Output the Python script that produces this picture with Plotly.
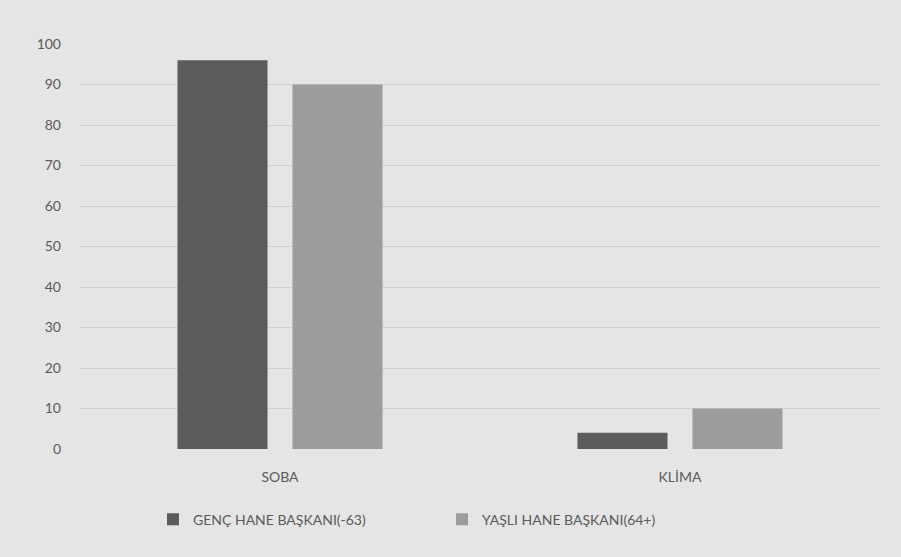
import plotly.graph_objects as go

categories = ["SOBA", "KLİMA"]
genc_values = [96, 4]
yasli_values = [90, 10]
series_names = ["GENÇ HANE BAŞKANI(-63)", "YAŞLI HANE BAŞKANI(64+)"]
y_ticks = list(range(0, 101, 10))

fig = go.Figure()
fig.add_trace(go.Bar(x=categories, y=genc_values, name=series_names[0],
                     marker=dict(color="#5c5c5c", line=dict(width=0))))
fig.add_trace(go.Bar(x=categories, y=yasli_values, name=series_names[1],
                     marker=dict(color="#9c9c9c", line=dict(width=0))))

fig.update_layout(
    width=901, height=557,
    barmode="group", bargap=0.425, bargroupgap=0.217,
    paper_bgcolor="#e5e5e5", plot_bgcolor="#e5e5e5",
    margin=dict(l=80, r=21, t=44, b=108),
    font=dict(family="Lato, Open Sans, sans-serif", size=14, color="#5a5a5a"),
    showlegend=True,
    legend=dict(orientation="h", x=0.4525, xanchor="center", y=-0.135, yanchor="top",
                entrywidth=244, entrywidthmode="pixels", itemwidth=30,
                font=dict(size=14, color="#5a5a5a"), bgcolor="rgba(0,0,0,0)"),
    xaxis=dict(showgrid=False, showline=False, zeroline=False, ticks="",
               ticklabelstandoff=18, tickfont=dict(size=14, color="#5a5a5a")),
    yaxis=dict(range=[0, 100], tickvals=y_ticks, showgrid=True, gridcolor="#d0d0d0",
               gridwidth=1, zeroline=False, showline=False, ticks="",
               ticklabelstandoff=18, tickfont=dict(size=14, color="#5a5a5a")),
)

fig.write_html("out.html", config={"displayModeBar": False},
               post_script="document.body.style.margin='0';document.body.style.background='#e5e5e5';")
